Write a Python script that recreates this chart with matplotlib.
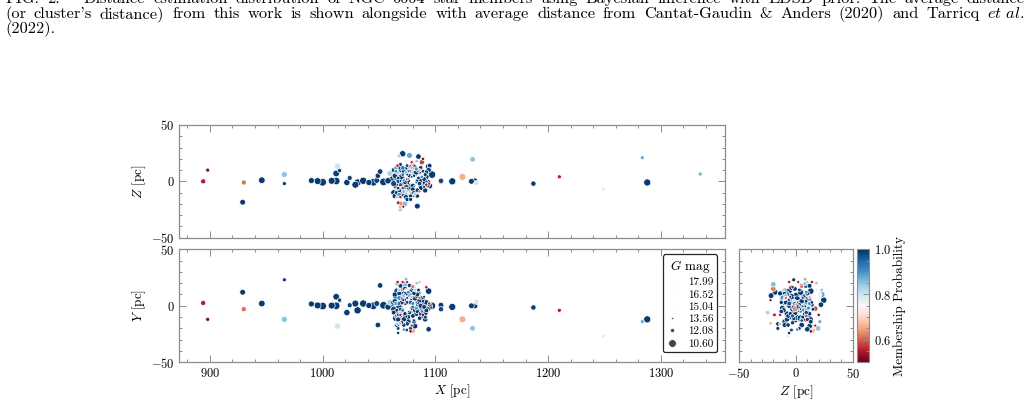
import numpy as np
import matplotlib
matplotlib.use("Agg")
import matplotlib.pyplot as plt
from matplotlib.ticker import MultipleLocator
from matplotlib.lines import Line2D

plt.rcParams['font.family'] = 'serif'
plt.rcParams['font.serif'] = ['cmr10', 'DejaVu Serif']
plt.rcParams['mathtext.fontset'] = 'cm'
plt.rcParams['axes.formatter.use_mathtext'] = True

# ---------------- data: heliocentric X, Y, Z (pc), G magnitude, membership probability
x_pc = [
    894, 898, 930, 929, 946, 966, 966,
    990, 995.5, 1000, 1008, 1012, 1012, 1015, 1013, 1021.5, 1024, 1029, 1031, 1036, 1041,
    1045, 1048, 1049, 1051, 1054, 1059.6, 1058,
    1095, 1097, 1095, 1105, 1105, 1115, 1124, 1133, 1132, 1135, 1136.5, 1187, 1210,
    1249, 1283.6, 1288, 1335,
    1071, 1077, 1067.7, 1083.4, 1079.5, 1073.6, 1066.5, 1069, 1086, 1094, 1092,
    1075, 1078, 1068.6, 1071.6, 1071, 1066, 1069, 1093, 1094.5, 1074, 1071, 1075,
    1068, 1065, 1068, 1066, 1067, 1072, 1074.5, 1072, 1067, 1079, 1094, 1087, 1091, 1081,
    1062, 1063, 1064, 1065, 1066, 1067, 1068, 1069, 1069, 1070, 1070, 1071, 1071, 1072,
    1072, 1073, 1073, 1073, 1074, 1074, 1075, 1075, 1075, 1076, 1076, 1076, 1077, 1077,
    1077, 1078, 1078, 1078, 1079, 1079, 1080, 1080, 1080, 1081, 1081, 1082, 1082, 1083,
    1083, 1084, 1084, 1085, 1085, 1086, 1086, 1087, 1088, 1088, 1089, 1090, 1090, 1091,
    1092, 1093, 1074, 1076, 1079, 1072, 1081, 1077, 1070, 1083,
    1070, 1073, 1080, 1066, 1084, 1069, 1067, 1088, 1085, 1090, 1089, 1082, 1078,
    1064, 1066, 1068, 1070, 1072, 1074, 1076, 1078, 1080, 1082, 1084, 1086,
    1063, 1065, 1067, 1069, 1071, 1073, 1075, 1077, 1079, 1081, 1083, 1085, 1087, 1089,
    1091, 1063, 1065, 1092, 1070, 1080,
]
y_pc = [
    2.5, -12, -3, 12, 2, 23, -12,
    1.6, 0.3, -0.2, 0.2, 0.0, 8, 5, -18, -6, 0.5, 2, -4, 2, 0.3,
    0, 2, -17, 18, 0.5, 3, -1,
    1, 0, -1, 0.5, -3, -1, -12, -20, 0, 0, 3.5, -1.5, -4,
    -27, -14, -12, -3,
    5, 10, 14, 20, -21.7, 14, 21, 17.7, 21, 13, 16.4,
    -16, -20, -15.5, 5, -25, -16, -8, -3, 2, 23.5, 21, 21,
    11, -11, -7, -17, -20, -17, -21.4, -21, -24, -17.5, -20.8, -10, -10, 11,
    1, -3, 4, 8, -5, 2, -1, 6, -9, 12, 3, -4, 9, -12,
    5, 0, -7, 15, 3, -2, 7, -10, 1, 12, -5, -14, 4, -1,
    18, 8, -6, 0, 13, -3, 5, -9, 2, -13, 0, 7, -4, 3,
    -7, 10, 1, -2, 14, -11, 4, 0, 6, -5, 2, -1, 8, -6,
    3, 0, 0, 2, -1, -2, 1, -3, 0, -1,
    15, 19, 17, 19.5, 9, -6, -8, -2.5, 1, 10, -8, -18, -22.6,
    10, 13, 7, 4, 9, 11, 6, 3, -2, 14, -5, 7,
    -6, 2, -12, -3, 6, -9, 3, -6, 8, -14, -2, 11, -7, 4,
    -12, 3, -9, -4, -15, 16,
]
z_pc = [
    0, 10, -1, -18.5, 1, -2, 6,
    0.7, 0.2, -0.8, 0.5, 0.3, 7, 9.5, 13.5, -1, 3, -3, -1, 0.5, -1,
    -0.8, 0.8, 5, 8.7, -0.5, 7, 0.5,
    14, 6, -4, 0, 0.5, 0, 4, 19.5, 0, 0.3, -1.5, -2, 4,
    -7, 21, -1, 6.5,
    24.5, 23, 22.5, 18, 14, 18, 14, 12, 10, 13, -3,
    -16, -16, -22.5, -22.5, -25, -14, -14, -3, -2, 8, -6, 2,
    -8, 4, -8, -10, 3, -7, -4, 1, -6, 17, 10, -5, 6, -10,
    2, -2, 5, -4, 8, -6, 1, 10, -3, 4, -9, 6, 0, 9,
    -12, 3, -5, -1, 11, -8, 6, 0, -3, 9, 2, -10, -5, 7,
    5, -2, 10, 0, -6, 4, 2, -7, 12, 5, -4, 7, -11, -1,
    8, -8, 5, 0, 3, -2, 9, -6, 1, 4, -3, 2, -5, -1,
    4, -1, -1, 1, -2, 2, 1, -1, 0, 2,
    -20, -20, 5, 8, -22, -25, -19, 17, 22, 21, 20, 12, 13,
    -13, -10, -12, -11, -9, -14, -10, -13, -12, -11, -13, -9,
    10, 12, 13, 15, 12, 11, 14, 9, 12, 13, 11, 10, 12, 9,
    -8, -10, 9, 8, -3, -4,
]
g_mag = [
    11.5, 12.0, 11.5, 11.2, 10.9, 12.0, 11.1,
    11.1, 10.8, 10.6, 10.8, 10.6, 10.9, 11.8, 11.0, 11.0, 11.5, 10.8, 10.7, 10.7, 11.1,
    10.6, 11.2, 11.3, 11.3, 10.6, 11.2, 11.0,
    11.7, 10.65, 11.2, 11.2, 11.4, 10.75, 10.8, 11.3, 11.2, 11.1, 11.5, 11.4, 12.0,
    12.4, 12.1, 10.75, 12.0,
    11.0, 11.2, 12.2, 12.4, 10.9, 12.7, 12.4, 11.6, 12.6, 10.95, 12.4,
    11.8, 12.0, 12.5, 12.7, 17.5, 12.6, 12.5, 11.3, 12.5, 12.2, 12.5, 12.6,
    11.6, 10.9, 11.3, 11.5, 12.2, 11.8, 12.2, 12.5, 12.4, 12.6, 11.35, 11.35, 12.0, 11.8,
    10.85, 11.15, 11.4, 11.05, 11.2, 11.7, 10.8, 11.3, 12.0, 11.1, 11.5, 12.2, 10.95, 11.4,
    11.2, 14.5, 11.9, 11.6, 11.0, 14.9, 12.8, 10.85, 15.8, 12.1, 13.5, 11.35, 10.75, 15.5,
    11.8, 16.4, 11.5, 16.9, 11.15, 13.0, 17.3, 11.7, 12.1, 12.4, 15.2, 11.05, 11.4, 13.2,
    11.3, 11.6, 16.0, 10.9, 12.2, 11.8, 11.2, 11.5, 11.0, 12.3, 10.85, 11.7, 12.7, 11.1,
    11.35, 10.95, 17.9, 17.6, 17.0, 16.6, 17.8, 16.2, 15.8, 16.8,
    11.3, 11.35, 12.0, 11.8, 11.2, 11.7, 12.2, 11.4, 11.3, 11.8, 12.5, 11.3, 12.4,
    11.4, 11.0, 11.6, 11.2, 12.0, 11.5, 12.3, 11.9, 11.3, 12.4, 11.8, 12.6,
    11.6, 11.9, 11.4, 12.1, 11.7, 11.2, 12.3, 11.9, 12.5, 11.6, 12.0, 11.5, 11.8, 12.3,
    11.4, 11.2, 12.1, 11.6, 11.9, 11.4,
]
prob = [
    0.55, 0.52, 0.61, 0.99, 0.99, 0.99, 0.85,
    0.99, 0.99, 0.99, 0.99, 0.99, 0.99, 0.98, 0.80, 0.99, 0.98, 0.99, 0.99, 0.99, 0.99,
    0.99, 0.98, 0.99, 0.99, 0.99, 0.83, 0.99,
    0.99, 0.99, 0.99, 0.99, 0.98, 0.99, 0.66, 0.85, 0.99, 0.99, 0.80, 0.99, 0.55,
    0.79, 0.88, 0.99, 0.87,
    0.99, 0.88, 0.84, 0.85, 0.66, 0.72, 0.55, 0.99, 0.66, 0.99, 0.55,
    0.99, 0.99, 0.65, 0.50, 0.78, 0.84, 0.55, 0.99, 0.56, 0.86, 0.55, 0.55,
    0.99, 0.99, 0.99, 0.99, 0.99, 0.99, 0.99, 0.92, 0.99, 0.55, 0.99, 0.99, 0.99, 0.99,
    0.99, 0.98, 0.99, 0.99, 0.99, 0.97, 0.99, 0.99, 0.96, 0.99, 0.99, 0.93, 0.99, 0.99,
    0.99, 0.97, 0.99, 0.99, 0.99, 0.95, 0.99, 0.99, 0.96, 0.90, 0.99, 0.99, 0.99, 0.92,
    0.99, 0.97, 0.88, 0.95, 0.99, 0.99, 0.98, 0.99, 0.92, 0.99, 0.97, 0.99, 0.99, 0.99,
    0.99, 0.99, 0.94, 0.99, 0.99, 0.99, 0.99, 0.99, 0.99, 0.91, 0.99, 0.99, 0.99, 0.99,
    0.99, 0.99, 0.96, 0.97, 0.99, 0.98, 0.96, 0.97, 0.99, 0.99,
    0.62, 0.86, 0.62, 0.85, 0.99, 0.83, 0.55, 0.58, 0.99, 0.74, 0.51, 0.99, 0.51,
    0.99, 0.99, 0.90, 0.99, 0.85, 0.99, 0.72, 0.99, 0.99, 0.83, 0.99, 0.60,
    0.99, 0.88, 0.99, 0.99, 0.92, 0.99, 0.99, 0.99, 0.65, 0.99, 0.90, 0.99, 0.99, 0.99,
    0.99, 0.99, 0.90, 0.99, 0.99, 0.99,
]

legend_mags = [17.99, 16.52, 15.04, 13.56, 12.08, 10.60]

caption_lines = [
    'FIG. 2.— Distance estimation distribution of NGC 6604 star members using '
    'Bayesian inference with EDSD prior. The average distance',
    "(or cluster's distance) from this work is shown alongside with average "
    "distance from Cantat-Gaudin & Anders (2020) and Tarricq $\\mathit{et}$ $\\mathit{al}$.",
    '(2022).',
]

# ---------------- drawing
x = np.array(x_pc, float); y = np.array(y_pc, float); z = np.array(z_pc, float)
g = np.array(g_mag, float); p = np.array(prob, float)
order = np.argsort(g, kind='stable')  # bright first, faint drawn on top
x, y, z, g, p = x[order], y[order], z[order], g[order], p[order]

def msize(mag):
    return 30.0 * 10 ** (-0.4 * (np.asarray(mag) - 10.6))

s = msize(g)
cmap = plt.get_cmap('RdBu')
norm = matplotlib.colors.Normalize(vmin=0.5, vmax=1.0)

fig = plt.figure(figsize=(10.33, 4.01), dpi=100)
W, H = 1033, 401
def rect(l, t, r, b):
    return [l / W, 1 - b / H, (r - l) / W, (b - t) / H]

ax_top = fig.add_axes(rect(179.3, 125.0, 725.0, 237.7))
ax_bot = fig.add_axes(rect(179.3, 249.3, 725.0, 362.3))
ax_rt = fig.add_axes(rect(739.3, 249.3, 852.7, 362.3))
cax = fig.add_axes(rect(857.3, 249.3, 868.7, 362.3))

spine_c = '0.55'
def style(ax, xmaj, xmin, ymaj, ymin):
    ax.xaxis.set_major_locator(MultipleLocator(xmaj))
    ax.xaxis.set_minor_locator(MultipleLocator(xmin))
    ax.yaxis.set_major_locator(MultipleLocator(ymaj))
    ax.yaxis.set_minor_locator(MultipleLocator(ymin))
    ax.tick_params(which='both', direction='in', top=True, right=True,
                   color=spine_c, labelsize=9, width=0.7)
    ax.tick_params(which='major', length=5)
    ax.tick_params(which='minor', length=2.5)
    for sp in ax.spines.values():
        sp.set_color(spine_c)
        sp.set_linewidth(0.9)

kw = dict(c=p, cmap=cmap, norm=norm, edgecolors='white', linewidths=0.5)
ax_top.scatter(x, z, s=s, **kw)
ax_bot.scatter(x, y, s=s, **kw)
sc = ax_rt.scatter(z, y, s=s, **kw)

for ax in (ax_top, ax_bot):
    ax.set_xlim(872.8, 1357.0)
    ax.set_ylim(-50, 50)
    style(ax, 100, 20, 50, 10)
ax_rt.set_xlim(-50, 50)
ax_rt.set_ylim(-50, 50)
style(ax_rt, 50, 10, 50, 10)

ax_top.tick_params(labelbottom=False)
ax_rt.tick_params(labelleft=False)

ax_top.set_ylabel(r'$Z$ [pc]', fontsize=9.5, labelpad=2)
ax_bot.set_ylabel(r'$Y$ [pc]', fontsize=9.5, labelpad=2)
ax_bot.set_xlabel(r'$X$ [pc]', fontsize=9.5, labelpad=2)
ax_rt.set_xlabel(r'$Z$ [pc]', fontsize=9.5, labelpad=2)

handles = [Line2D([], [], linestyle='none', marker='o', markerfacecolor='#444444',
                  markeredgecolor='white', markeredgewidth=0.4,
                  markersize=np.sqrt(msize(m))) for m in legend_mags]
leg = ax_bot.legend(handles, [f'{m:.2f}' for m in legend_mags], title=r'$G$ mag',
                    loc='upper right', bbox_to_anchor=(0.99, 0.975), fontsize=8,
                    title_fontsize=9.5, frameon=True, fancybox=True, framealpha=1,
                    borderpad=0.35, labelspacing=0.22, handletextpad=0.9,
                    handlelength=1.0, borderaxespad=0.2)
leg.get_frame().set_edgecolor('0.15')
leg.get_frame().set_linewidth(0.9)

cb = fig.colorbar(sc, cax=cax)
cb.set_ticks([0.6, 0.8, 1.0])
cb.ax.yaxis.set_minor_locator(MultipleLocator(0.05))
cb.ax.tick_params(which='both', direction='in', labelsize=9, color=spine_c, width=0.7)
cb.ax.tick_params(which='major', length=4)
cb.ax.tick_params(which='minor', length=2)
cb.outline.set_edgecolor(spine_c)
cb.set_label('Membership Probability', fontsize=9.5, labelpad=2)

# caption fragment at top of the page crop (lines 1 and 2 justified)
cap_font = dict(fontsize=11.8, family=['cmr10', 'DejaVu Serif'])
fig.canvas.draw()
renderer = fig.canvas.get_renderer()
x0, x1 = 5.0, 1025.0
for i, (txt, yb) in enumerate(zip(caption_lines, (3, 18, 33))):
    ypos = 1 - yb / H
    if i == 2:
        fig.text(x0 / W, ypos, txt, ha='left', va='baseline', **cap_font)
        continue
    words = txt.replace('$ $', '$\u00a0$').split(' ')
    words = [w.replace('$\u00a0$', '$ $') for w in words]
    objs = [fig.text(0, ypos, w, ha='left', va='baseline', **cap_font) for w in words]
    widths = [o.get_window_extent(renderer).width for o in objs]
    gap = (x1 - x0 - sum(widths)) / (len(words) - 1)
    cx = x0
    for o, wd in zip(objs, widths):
        o.set_x(cx / W)
        cx += wd + gap

fig.savefig('out.png', dpi=100)
